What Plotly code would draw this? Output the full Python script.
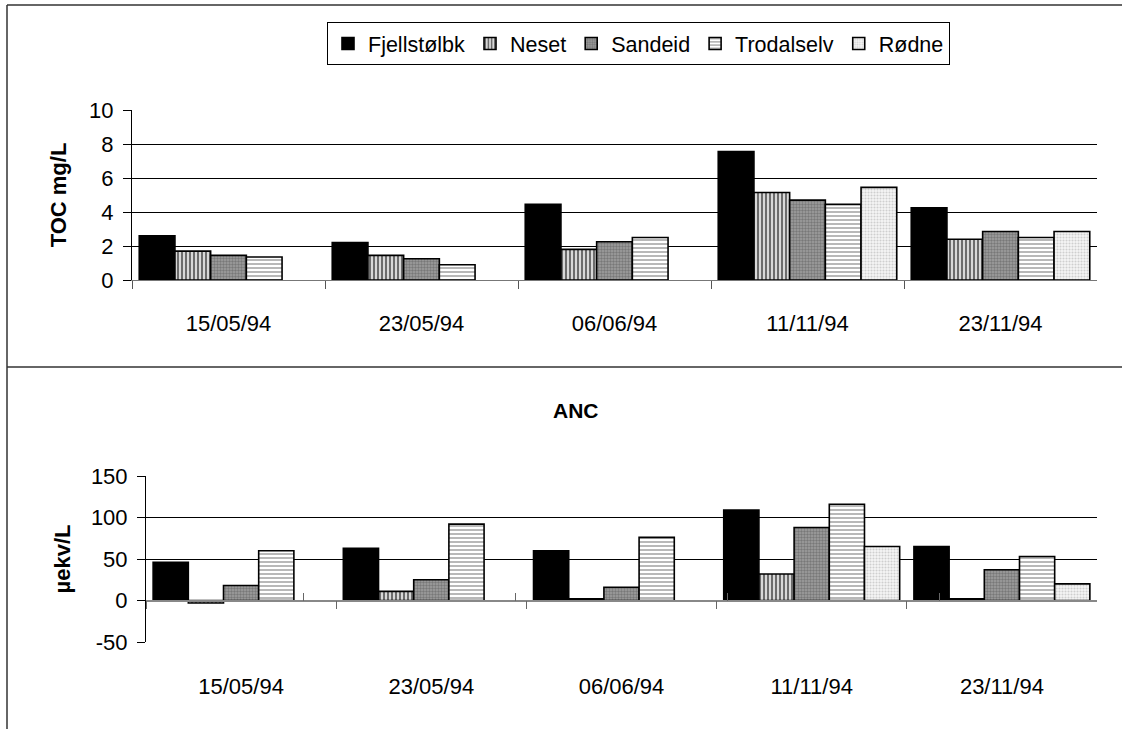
import plotly.graph_objects as go

dates = ["15/05/94", "23/05/94", "06/06/94", "11/11/94", "23/11/94"]
stations = ["Fjellstølbk", "Neset", "Sandeid", "Trodalselv", "Rødne"]

toc_fjellstolbk = [2.6, 2.2, 4.45, 7.55, 4.25]
toc_neset = [1.7, 1.45, 1.8, 5.15, 2.4]
toc_sandeid = [1.45, 1.25, 2.25, 4.7, 2.85]
toc_trodalselv = [1.35, 0.9, 2.5, 4.45, 2.5]
toc_rodne = [None, None, None, 5.45, 2.85]

anc_fjellstolbk = [46, 63, 60, 109, 65]
anc_neset = [-3, 11, 2, 32, 2]
anc_sandeid = [18, 25, 16, 88, 37]
anc_trodalselv = [60, 92, 76, 116, 53]
anc_rodne = [None, None, None, 65, 20]

toc_ticks = [0, 2, 4, 6, 8, 10]
anc_ticks = [-50, 0, 50, 100, 150]

toc_series = [toc_fjellstolbk, toc_neset, toc_sandeid, toc_trodalselv, toc_rodne]
anc_series = [anc_fjellstolbk, anc_neset, anc_sandeid, anc_trodalselv, anc_rodne]

W, H = 1122, 729
FONT = "Liberation Sans, Arial, sans-serif"

styles = [
    dict(color="black"),
    dict(color="white", pattern=dict(shape="|", fgcolor="black", bgcolor="#d8d8d8", size=4, solidity=0.5)),
    dict(color="#8c8c8c", pattern=dict(shape=".", fgcolor="#505050", bgcolor="#a0a0a0", size=3, solidity=0.5)),
    dict(color="white", pattern=dict(shape="-", fgcolor="#333333", bgcolor="white", size=4, solidity=0.35)),
    dict(color="white", pattern=dict(shape=".", fgcolor="#a8a8a8", bgcolor="#f6f6f6", size=3, solidity=0.4)),
]

fig = go.Figure()
for i, name in enumerate(stations):
    m = dict(styles[i])
    m["line"] = dict(color="black", width=1.6)
    fig.add_trace(go.Bar(x=dates, y=toc_series[i], name=name, marker=m,
                         xaxis="x", yaxis="y", showlegend=True))
for i, name in enumerate(stations):
    m = dict(styles[i])
    m["line"] = dict(color="black", width=1.6)
    fig.add_trace(go.Bar(x=dates, y=anc_series[i], name=name, marker=m,
                         xaxis="x2", yaxis="y2", showlegend=False))
# invisible helper trace so the crossing-tick axis knows the categories
fig.add_trace(go.Scatter(x=dates, y=[0] * len(dates), xaxis="x3", yaxis="y2",
                         mode="markers", marker=dict(opacity=0), showlegend=False,
                         hoverinfo="skip"))

# pixel layout
top_x = [132 / W, 1097 / W]
top_y = [1 - 280 / H, 1 - 110 / H]
bot_x = [146 / W, 1097 / W]
bot_y = [1 - 642 / H, 1 - 476 / H]
zero_pos = bot_y[0] + (0 - anc_ticks[0]) / (anc_ticks[-1] - anc_ticks[0]) * (bot_y[1] - bot_y[0])

tickfont = dict(family=FONT, size=22, color="black")
titlefont = dict(family=FONT, size=22, color="black")

fig.update_layout(
    width=W, height=H,
    margin=dict(l=0, r=0, t=0, b=0, autoexpand=False),
    paper_bgcolor="white", plot_bgcolor="white",
    barmode="group", bargap=0.075, bargroupgap=0,
    font=dict(family=FONT, color="black"),
    legend=dict(orientation="h", x=327 / W, xanchor="left", y=1 - 22 / H, yanchor="top",
                bordercolor="black", borderwidth=1, bgcolor="white",
                font=dict(family=FONT, size=21.5, color="black"),
                itemwidth=30, traceorder="normal"),
    xaxis=dict(domain=top_x, anchor="y", type="category", categoryorder="array",
               categoryarray=dates, showline=True, linecolor="#777777", linewidth=1,
               ticks="outside", tickson="boundaries", ticklen=8, tickcolor="#555555",
               tickfont=tickfont, ticklabelstandoff=24, showgrid=False, fixedrange=True,
               automargin=False),
    yaxis=dict(domain=top_y, anchor="x", range=[0, 10], tickvals=toc_ticks,
               ticktext=[str(v) for v in toc_ticks],
               showline=True, linecolor="black", linewidth=1, ticks="outside", ticklen=8,
               tickcolor="black", showgrid=True, gridcolor="black", gridwidth=1,
               zeroline=False, tickfont=tickfont, ticklabelstandoff=5, automargin=False,
               title=dict(text="<b>TOC mg/L</b>", font=titlefont, standoff=16)),
    xaxis2=dict(domain=bot_x, anchor="free", position=zero_pos, type="category",
                categoryorder="array", categoryarray=dates, showline=True,
                linecolor="#888888", linewidth=1.5, ticks="outside", tickson="boundaries",
                ticklen=8, tickcolor="#666666", tickfont=tickfont, ticklabelstandoff=66,
                showgrid=False, fixedrange=True, automargin=False),
    xaxis3=dict(domain=bot_x, anchor="free", position=zero_pos, overlaying="x2",
                type="category", categoryorder="array", categoryarray=dates,
                showline=False, ticks="inside", tickson="boundaries", ticklen=8,
                tickcolor="#666666", showticklabels=False, showgrid=False, fixedrange=True,
                automargin=False),
    yaxis2=dict(domain=bot_y, anchor="x2", range=[anc_ticks[0], anc_ticks[-1]], tickvals=anc_ticks,
                ticktext=[str(v) for v in anc_ticks],
                showline=True, linecolor="black", linewidth=1, ticks="outside", ticklen=8,
                tickcolor="black", showgrid=True, gridcolor="black", gridwidth=1,
                zeroline=False, tickfont=tickfont, ticklabelstandoff=5, automargin=False,
                title=dict(text="<b>µekv/L</b>", font=titlefont, standoff=14)),
)

fig.add_annotation(text="<b>ANC</b>", x=576 / W, y=1 - 410 / H, xref="paper", yref="paper",
                   showarrow=False, font=dict(family=FONT, size=21, color="black"))

# chart-area borders
border = dict(color="#333333", width=1.5)
fig.add_shape(type="line", xref="paper", yref="paper", x0=7 / W, x1=1, y0=1 - 5 / H, y1=1 - 5 / H, line=border)
fig.add_shape(type="line", xref="paper", yref="paper", x0=7 / W, x1=1, y0=1 - 367 / H, y1=1 - 367 / H, line=border)
fig.add_shape(type="line", xref="paper", yref="paper", x0=7 / W, x1=7 / W, y0=0, y1=1 - 5 / H, line=border)

fig.write_html("out.html", config={"displayModeBar": False},
               post_script="document.body.style.margin='0';document.body.style.overflow='hidden';")
